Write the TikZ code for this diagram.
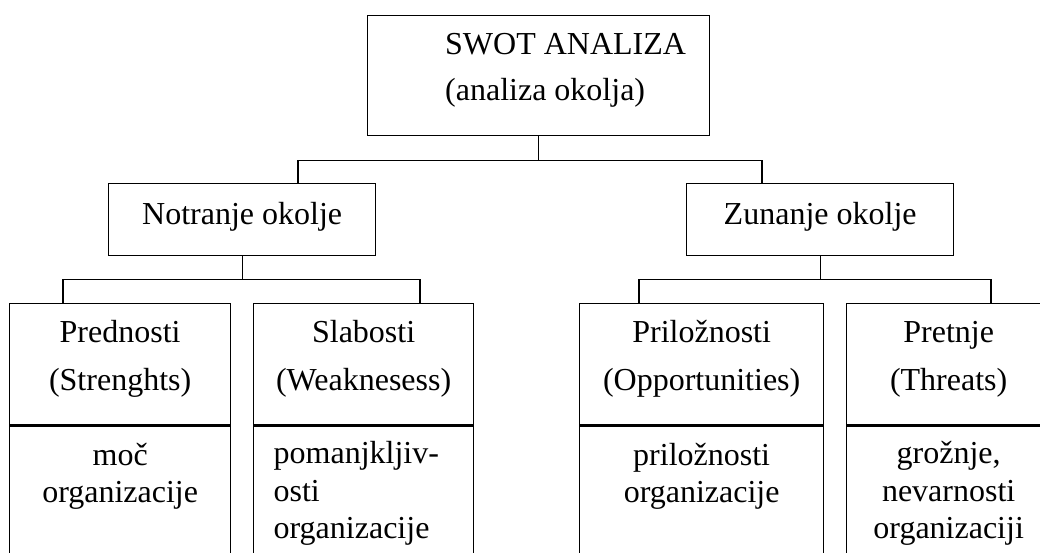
\documentclass[tikz,border=0pt]{standalone}
\usepackage{fontspec}
\setmainfont{Liberation Serif}
\usetikzlibrary{calc}

\tikzset{
  box/.style={draw, line width=1.3pt, inner sep=0pt, align=center, anchor=north west,
    font=\fontsize{32}{48}\selectfont},
  headbox/.style={box, minimum height=121pt, text height=87pt, text depth=34pt},
  lowbox/.style={box, minimum height=176pt, text height=78pt, text depth=98pt,
    font=\fontsize{32}{37.5}\selectfont},
  lowbox3/.style={lowbox, text height=114pt, text depth=62pt},
  wire/.style={line width=1.3pt},
  divider/.style={line width=3pt},
}

\begin{document}
\begin{tikzpicture}[x=1pt,y=-1pt]
\clip (0,0) rectangle (1040,552);

% top
\node[box, minimum width=342pt, minimum height=120pt] (swot) at (367,15) {};
\node[align=left, anchor=base west, inner sep=0pt, font=\fontsize{32}{46}\selectfont] (swottxt) at (445,100) {SWOT ANALIZA\\(analiza okolja)};

% middle
\node[box, minimum width=267pt, text height=41pt, text depth=31pt] (notr) at (108,183) {Notranje okolje};
\node[box, minimum width=267pt, text height=41pt, text depth=31pt] (zun) at (686,183) {Zunanje okolje};

% bottom, lower parts
\node[lowbox, minimum width=221pt] (predx) at (9,424) {moč\\organizacije};
\node[lowbox, minimum width=220pt, text width=180pt, inner xsep=20pt, align=left, text height=39pt, text depth=137pt] (slabx) at (253,424) {pomanjkljiv-\\osti\\organizacije};
\node[lowbox, minimum width=244pt] (prilx) at (579,424) {priložnosti\\organizacije};
\node[lowbox3, minimum width=204pt] (pretx) at (846,424) {grožnje,\\nevarnosti\\organizaciji};

% bottom, upper parts
\node[headbox, minimum width=221pt] (pred) at (9,303) {Prednosti\\(Strenghts)};
\node[headbox, minimum width=220pt] (slab) at (253,303) {Slabosti\\(Weaknesess)};
\node[headbox, minimum width=244pt] (pril) at (579,303) {Priložnosti\\(Opportunities)};
\node[headbox, minimum width=204pt] (pret) at (846,303) {Pretnje\\(Threats)};

\foreach \n in {pred,slab,pril,pret}
  \draw[divider] (\n.south west) -- (\n.south east);

% connectors
\coordinate (notrin) at (298,183);
\coordinate (zunin) at (762,183);
\draw[wire] (swot.south) -- ++(0,24) coordinate (topbus);
\draw[wire] (notrin) |- (topbus) -| (zunin);

\coordinate (predin) at (63,303);
\coordinate (slabin) at (420,303);
\draw[wire] (notr.south) -- ++(0,23) coordinate (notrbus);
\draw[wire] (predin) |- (notrbus) -| (slabin);

\coordinate (prilin) at (639,303);
\coordinate (pretin) at (991,303);
\draw[wire] (zun.south) -- ++(0,23) coordinate (zunbus);
\draw[wire] (prilin) |- (zunbus) -| (pretin);
\end{tikzpicture}
\end{document}
